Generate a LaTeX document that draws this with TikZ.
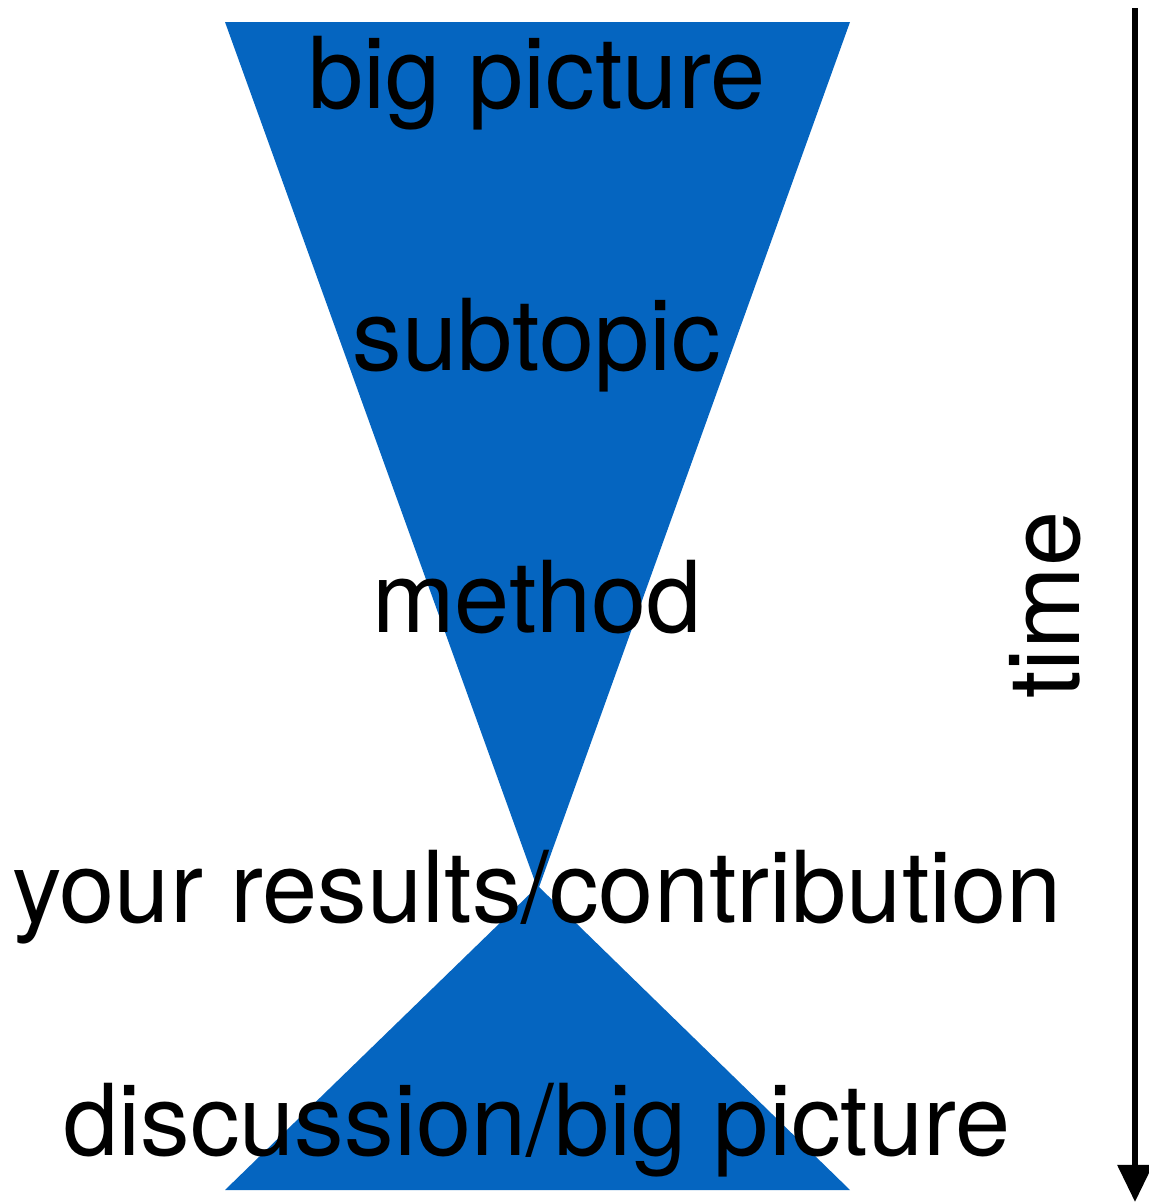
\documentclass[tikz,border=0pt]{standalone}
\usepackage{fontspec}
\setmainfont{TeX Gyre Heros}
\usetikzlibrary{arrows.meta}
\definecolor{funnelblue}{RGB}{5,101,192}

\begin{document}
\begin{tikzpicture}[x=0.01cm, y=-0.01cm, every node/.style={font=\fontsize{28.2}{34}\selectfont, inner sep=0pt}]
  \useasboundingbox (0,0) rectangle (1149,1203);
  % funnel
  \fill[funnelblue] (225,22) -- (850,22) -- (538,890) -- cycle;
  \fill[funnelblue] (538,886) -- (850,1190) -- (225,1190) -- cycle;
  % stages
  \node[anchor=base] (big) at (537,108) {big picture};
  \node[anchor=base] (sub) at (537,370) {subtopic};
  \node[anchor=base] (meth) at (537,632) {method};
  \node[anchor=base] (res) at (537,922) {your results/contribution};
  \node[anchor=base] (disc) at (537,1155) {discussion/big picture};
  % time axis
  \coordinate (tstart) at (1135,8);
  \coordinate (tend) at (1135,1202);
  \draw[line width=1.7pt, -{Triangle[length=0.37cm, width=0.34cm]}] (tstart) -- (tend);
  \node[anchor=base, rotate=90] (time) at (1079,605) {time};
\end{tikzpicture}
\end{document}
